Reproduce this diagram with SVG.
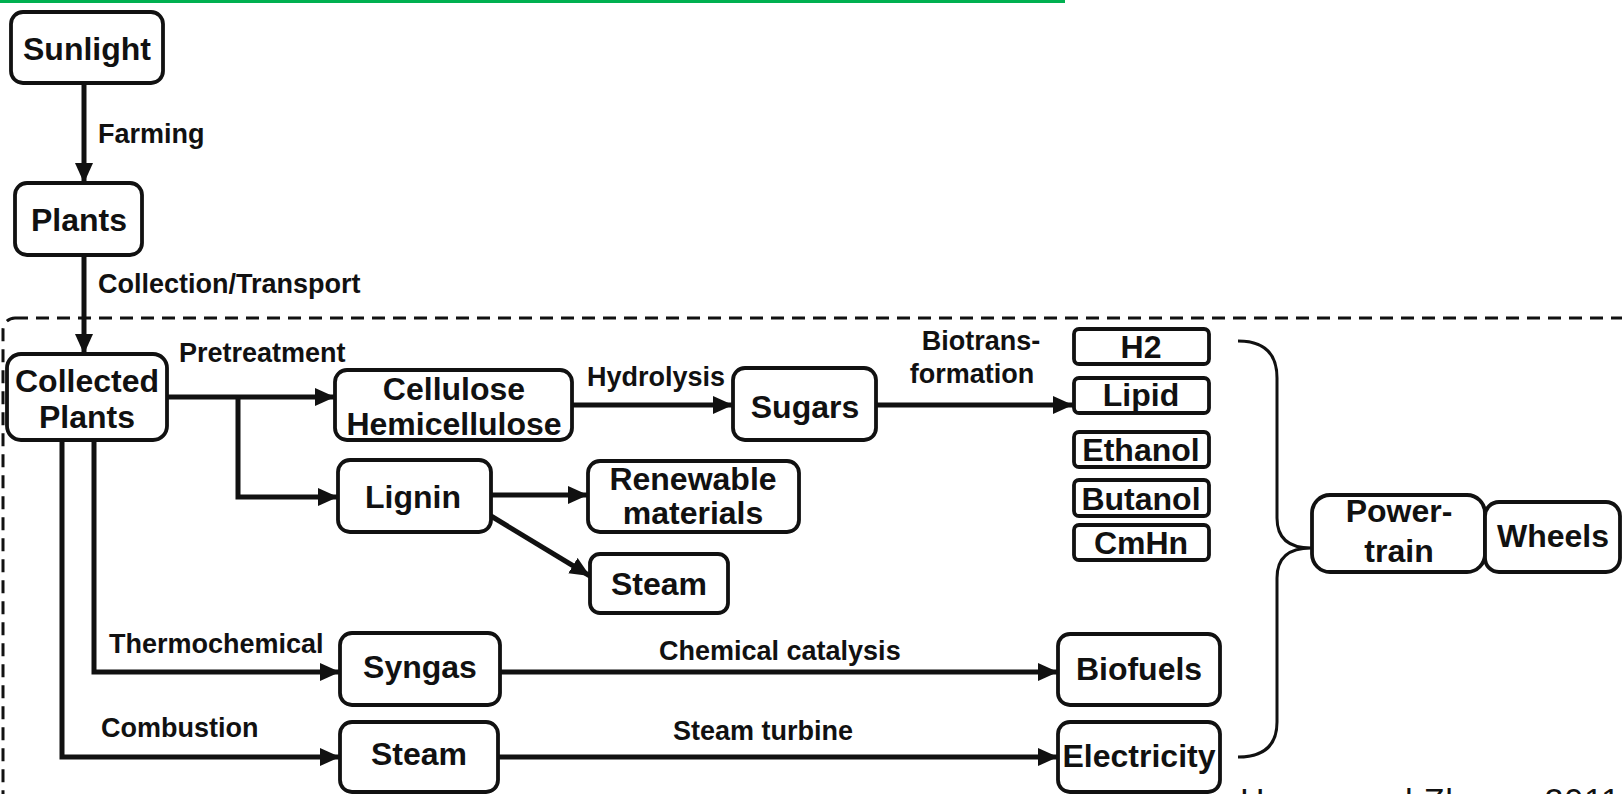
<svg xmlns="http://www.w3.org/2000/svg" width="1622" height="794" viewBox="0 0 1622 794">
<style>
.box{fill:#fff;stroke:#111;stroke-width:3.8}
.nt{font-family:"Liberation Sans",Arial,sans-serif;font-weight:bold;font-size:32px;fill:#111;text-anchor:middle}
.lb{font-family:"Liberation Sans",Arial,sans-serif;font-weight:bold;font-size:27px;fill:#111}
.ar{fill:none;stroke:#111;stroke-width:5}
.br{fill:none;stroke:#111;stroke-width:3}
</style>
<defs>
<marker id="ah" markerUnits="userSpaceOnUse" markerWidth="22" markerHeight="20" refX="20" refY="9" orient="auto">
<path d="M0,0 L20,9 L0,18 z" fill="#111"/>
</marker>
</defs>
<rect x="0" y="0" width="1065" height="3" fill="#00b050"/>
<rect x="3" y="318" width="1680" height="540" rx="12" fill="none" stroke="#111" stroke-width="3" stroke-dasharray="13 8"/>
<g id="connectors">
<line class="ar" x1="84" y1="83" x2="84" y2="183" marker-end="url(#ah)"/>
<line class="ar" x1="84" y1="255" x2="84" y2="354" marker-end="url(#ah)"/>
<line class="ar" x1="167" y1="397" x2="335" y2="397" marker-end="url(#ah)"/>
<path class="ar" d="M238 397 V497 H338" marker-end="url(#ah)"/>
<line class="ar" x1="572" y1="405" x2="733" y2="405" marker-end="url(#ah)"/>
<line class="ar" x1="876" y1="405" x2="1073" y2="405" marker-end="url(#ah)"/>
<line class="ar" x1="491" y1="495" x2="588" y2="495" marker-end="url(#ah)"/>
<line class="ar" x1="491" y1="516" x2="590" y2="576" marker-end="url(#ah)"/>
<path class="ar" d="M94 440 V672 H340" marker-end="url(#ah)"/>
<path class="ar" d="M62 440 V757 H340" marker-end="url(#ah)"/>
<line class="ar" x1="500" y1="672" x2="1058" y2="672" marker-end="url(#ah)"/>
<line class="ar" x1="498" y1="757" x2="1058" y2="757" marker-end="url(#ah)"/>
<path class="br" d="M1238 341 Q1277 341 1277 378 V518 Q1277 548 1311 548 Q1277 548 1277 578 V722 Q1277 757 1238 757"/>
</g>
<g id="labels">
<text class="lb" x="98" y="143">Farming</text>
<text class="lb" x="98" y="293">Collection/Transport</text>
<text class="lb" x="179" y="362">Pretreatment</text>
<text class="lb" x="587" y="386">Hydrolysis</text>
<text class="lb" x="981" y="350" text-anchor="middle">Biotrans-</text>
<text class="lb" x="972" y="383" text-anchor="middle">formation</text>
<text class="lb" x="659" y="660">Chemical catalysis</text>
<text class="lb" x="673" y="740">Steam turbine</text>
<text class="lb" x="109" y="653">Thermochemical</text>
<text class="lb" x="101" y="737">Combustion</text>
</g>
<g id="sunlight"><rect class="box" x="11" y="12" width="152" height="71" rx="12"/><text class="nt" x="87" y="60">Sunlight</text></g>
<g id="plants"><rect class="box" x="15" y="183" width="127" height="72" rx="12"/><text class="nt" x="79" y="231">Plants</text></g>
<g id="collected"><rect class="box" x="7" y="354" width="160" height="86" rx="14"/><text class="nt" x="87" y="392">Collected</text><text class="nt" x="87" y="428">Plants</text></g>
<g id="cellulose"><rect class="box" x="335" y="370" width="237" height="70" rx="12"/><text class="nt" x="454" y="400">Cellulose</text><text class="nt" x="454" y="435">Hemicellulose</text></g>
<g id="sugars"><rect class="box" x="733" y="368" width="143" height="72" rx="12"/><text class="nt" x="805" y="418">Sugars</text></g>
<g id="lignin"><rect class="box" x="338" y="460" width="153" height="72" rx="12"/><text class="nt" x="413" y="508">Lignin</text></g>
<g id="renewable"><rect class="box" x="588" y="461" width="211" height="71" rx="12"/><text class="nt" x="693" y="490">Renewable</text><text class="nt" x="693" y="524">materials</text></g>
<g id="steam-lignin"><rect class="box" x="590" y="554" width="138" height="59" rx="10"/><text class="nt" x="659" y="595">Steam</text></g>
<g id="h2"><rect class="box" x="1074" y="329" width="135" height="35" rx="5"/><text class="nt" x="1141" y="358">H2</text></g>
<g id="lipid"><rect class="box" x="1074" y="378" width="135" height="35" rx="5"/><text class="nt" x="1141" y="406">Lipid</text></g>
<g id="ethanol"><rect class="box" x="1074" y="432" width="135" height="35" rx="5"/><text class="nt" x="1141" y="461">Ethanol</text></g>
<g id="butanol"><rect class="box" x="1074" y="480" width="135" height="36" rx="5"/><text class="nt" x="1141" y="510">Butanol</text></g>
<g id="cmhn"><rect class="box" x="1074" y="525" width="135" height="35" rx="5"/><text class="nt" x="1141" y="554">CmHn</text></g>
<g id="powertrain"><rect class="box" x="1312" y="495" width="173" height="77" rx="18"/><text class="nt" x="1399" y="522">Power-</text><text class="nt" x="1399" y="562">train</text></g>
<g id="wheels"><rect class="box" x="1485" y="502" width="135" height="70" rx="14"/><text class="nt" x="1553" y="547">Wheels</text></g>
<g id="syngas"><rect class="box" x="340" y="633" width="160" height="72" rx="12"/><text class="nt" x="420" y="678">Syngas</text></g>
<g id="steam"><rect class="box" x="340" y="722" width="158" height="70" rx="12"/><text class="nt" x="419" y="765">Steam</text></g>
<g id="biofuels"><rect class="box" x="1058" y="634" width="162" height="71" rx="12"/><text class="nt" x="1139" y="680">Biofuels</text></g>
<g id="electricity"><rect class="box" x="1058" y="722" width="162" height="70" rx="12"/><text class="nt" x="1139" y="767">Electricity</text></g>
<text x="1240" y="812" font-family="Liberation Sans, Arial, sans-serif" font-size="34" fill="#111" textLength="380" lengthAdjust="spacing">Huang and Zhang, 2011</text>
</svg>
